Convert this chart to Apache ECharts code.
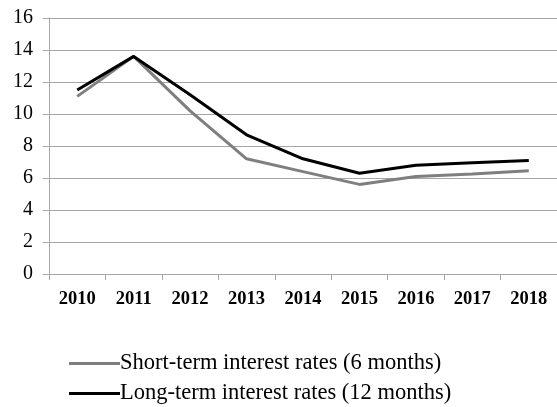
<!DOCTYPE html>
<html>
<head>
<meta charset="utf-8">
<script src="https://cdn.jsdelivr.net/npm/echarts@6/dist/echarts.min.js"></script>
<style>
html,body{margin:0;padding:0;background:#fff;}
#chart{width:557px;height:407px;}
</style>
</head>
<body>
<div id="chart"></div>
<script>
const years = ['2010','2011','2012','2013','2014','2015','2016','2017','2018'];
const shortTerm = [11.1, 13.6, 10.2, 7.2, 6.4, 5.6, 6.1, 6.25, 6.45];
const longTerm = [11.5, 13.6, 11.2, 8.7, 7.2, 6.3, 6.8, 6.95, 7.1];
const shortName = 'Short-term interest rates (6 months)';
const longName = 'Long-term interest rates (12 months)';

const serif = '"Liberation Serif", "Times New Roman", serif';
const legendText = { fontFamily: serif, fontSize: 22.5, color: '#000', padding: [0,0,0,-5] };
function mkLegend(name, top) {
  return {
    orient: 'horizontal', left: 64, top: top,
    icon: 'rect', itemWidth: 51, itemHeight: 3,
    textStyle: legendText, data: [name]
  };
}
const chart = echarts.init(document.getElementById('chart'));
chart.setOption({
  animation: false,
  backgroundColor: '#fff',
  grid: { left: 49, top: 18, right: 0, bottom: 133, containLabel: false },
  legend: [mkLegend(shortName, 347), mkLegend(longName, 377)],
  xAxis: {
    type: 'category',
    data: years,
    boundaryGap: true,
    axisLine: { lineStyle: { color: '#a6a6a6', width: 1 } },
    axisTick: { show: true, length: 6, lineStyle: { color: '#a6a6a6' } },
    axisLabel: { fontFamily: serif, fontSize: 18.5, fontWeight: 'bold', color: '#000', margin: 16 }
  },
  yAxis: {
    type: 'value',
    min: 0, max: 16, interval: 2,
    axisLine: { show: true, lineStyle: { color: '#a6a6a6', width: 1 } },
    axisTick: { show: true, length: 6, lineStyle: { color: '#a6a6a6' } },
    splitLine: { lineStyle: { color: '#a6a6a6', width: 1 } },
    axisLabel: { fontFamily: serif, fontSize: 20, color: '#000', margin: 16 }
  },
  series: [
    { name: shortName, type: 'line', data: shortTerm, symbol: 'none',
      lineStyle: { color: '#7f7f7f', width: 3 }, itemStyle: { color: '#7f7f7f' } },
    { name: longName, type: 'line', data: longTerm, symbol: 'none',
      lineStyle: { color: '#000', width: 3 }, itemStyle: { color: '#000' } }
  ]
});
</script>
</body>
</html>
